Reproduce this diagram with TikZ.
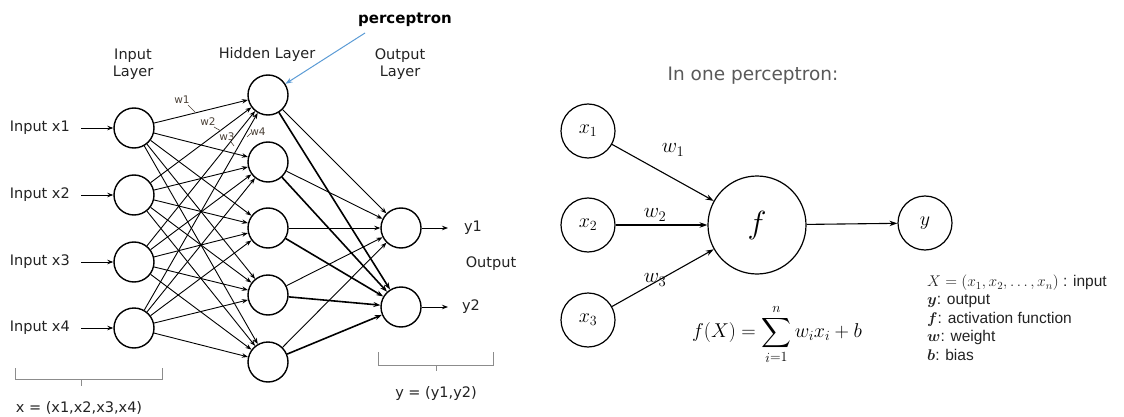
\RequirePackage{fix-cm}
\documentclass[tikz,border=0pt]{standalone}
\usepackage{amsmath}
\usepackage{fontspec}
\setmainfont{Liberation Sans}
\newfontfamily\lsans{DejaVu Sans}
\usetikzlibrary{arrows.meta}
\definecolor{txt}{HTML}{222222}
\definecolor{wcol}{HTML}{4A4036}
\definecolor{brk}{HTML}{8C8C8C}
\definecolor{gtxt}{HTML}{595959}
\definecolor{blu}{HTML}{5B9BD5}
\tikzset{
  neuron/.style={circle,draw=black,line width=1.4pt,minimum size=40pt,inner sep=0pt},
  pnode/.style={circle,draw=black,line width=1.2pt,minimum size=54pt,inner sep=0pt,font=\fontsize{20}{24}\selectfont},
  lbl/.style={font=\lsans\fontsize{14.5}{17}\selectfont,text=txt,inner sep=0pt},
  wlbl/.style={font=\lsans\fontsize{10.5}{12}\selectfont,text=wcol,inner sep=0pt},
  edge/.style={line width=0.9pt,-{Stealth[length=6pt,width=4.5pt]}},
  bedge/.style={line width=1.6pt,-{Stealth[length=7pt,width=5pt]}},
  pedge/.style={line width=1.1pt,-{Stealth[length=8pt,width=5.5pt]}},
  brack/.style={draw=brk,line width=1pt},
  leg/.style={anchor=west,inner sep=0pt,font=\fontsize{15.5}{18}\selectfont,text=txt},
}
\begin{document}
\begin{tikzpicture}[x=1pt,y=-1pt]
\useasboundingbox (0,0) rectangle (1124,417);
% ---------- left network ----------
\foreach \i/\y in {1/128,2/195,3/262,4/328}{
  \node[neuron] (i\i) at (134,\y) {};
  \node[lbl,anchor=east] (t\i) at (70,\y) {Input x\i};
  \coordinate (s\i) at (81,\y);
  \draw[edge] (s\i) -- (i\i);
}
\foreach \j/\y in {1/95,2/162,3/228,4/295,5/362}{
  \node[neuron] (h\j) at (268,\y) {};
}
\node[neuron] (o1) at (401,228) {};
\node[neuron] (o2) at (401,307) {};
\foreach \i in {1,...,4}{\foreach \j in {1,...,5}{\draw[edge] (i\i) -- (h\j);}}
\foreach \j in {1,...,5}{\draw[edge] (h\j) -- (o1); \draw[bedge] (h\j) -- (o2);}
\coordinate (e1) at (448,228);
\coordinate (e2) at (448,307);
\draw[edge] (o1) -- (e1);
\draw[edge] (o2) -- (e2);
\node[lbl] (y1) at (473,228) {y1};
\node[lbl] (y2) at (471,307) {y2};
\node[lbl] (out) at (491,264) {Output};
\node[lbl,align=center] (il) at (133,64) {Input\\Layer};
\node[lbl] (hl) at (267,55) {Hidden Layer};
\node[lbl,align=center] (ol) at (400,64) {Output\\Layer};
% weights
\node[wlbl] (w1) at (182,100) {w1};
\node[wlbl] (w2) at (208,122) {w2};
\node[wlbl] (w3) at (227,137) {w3};
\node[wlbl] (w4) at (258,132) {w4};
\draw[wcol,line width=0.6pt] (188,105) -- (195,112);
\draw[wcol,line width=0.6pt] (214,127) -- (221,131);
\draw[wcol,line width=0.6pt] (231,142) -- (234,146);
\draw[wcol,line width=0.6pt] (251,133) -- (247,137);
% perceptron pointer
\node[font=\lsans\bfseries\fontsize{15}{18}\selectfont,inner sep=0pt] (pc) at (405,20) {perceptron};
\coordinate (pa) at (365,33);
\draw[blu,line width=1pt,-{Stealth[length=7pt,width=5pt]}] (pa) -- (h1);
% brackets
\draw[brack] (15,368) -- (15,379) -- (162,379) -- (162,368);
\draw[brack] (81,379) -- (81,386);
\node[lbl] (xv) at (79,408) {x = (x1,x2,x3,x4)};
\draw[brack] (378,352) -- (378,365) -- (493,365) -- (493,352);
\draw[brack] (436,365) -- (436,371);
\node[lbl] (yv) at (436,394) {y = (y1,y2)};
% ---------- right: one perceptron ----------
\node[font=\lsans\fontsize{18.5}{22}\selectfont,text=gtxt,inner sep=0pt] (ttl) at (753,76) {In one perceptron:};
\node[pnode] (x1) at (588,131) {$x_1$};
\node[pnode] (x2) at (588,225) {$x_2$};
\node[pnode] (x3) at (588,320) {$x_3$};
\node[circle,draw=black,line width=1.2pt,minimum size=98pt,inner sep=0pt,font=\fontsize{32}{36}\selectfont] (f) at (757,225) {$f$};
\node[pnode] (y) at (925,223) {$y$};
\draw[pedge] (x1) -- (f);
\draw[pedge] (x2) -- (f);
\draw[pedge] (x3) -- (f);
\draw[pedge] (f) -- (y);
\node[inner sep=0pt,font=\fontsize{21}{24}\selectfont] (wa) at (673,150) {$w_1$};
\node[inner sep=0pt,font=\fontsize{21}{24}\selectfont] (wb) at (655,215) {$w_2$};
\node[inner sep=0pt,font=\fontsize{21}{24}\selectfont] (wc) at (655,280) {$w_3$};
\node[inner sep=0pt,font=\fontsize{20}{24}\selectfont] (fm) at (777,334) {$\displaystyle f(X)=\sum_{i=1}^{n} w_i x_i + b$};
\node[leg] (l1) at (927,283) {$X=(x_1,x_2,\dots,x_n)$ : input};
\node[leg] (l2) at (927,301) {$\boldsymbol{y}$: output};
\node[leg] (l3) at (927,319) {$\boldsymbol{f}$: activation function};
\node[leg] (l4) at (927,337) {$\boldsymbol{w}$: weight};
\node[leg] (l5) at (927,355) {$\boldsymbol{b}$: bias};
\end{tikzpicture}
\end{document}
